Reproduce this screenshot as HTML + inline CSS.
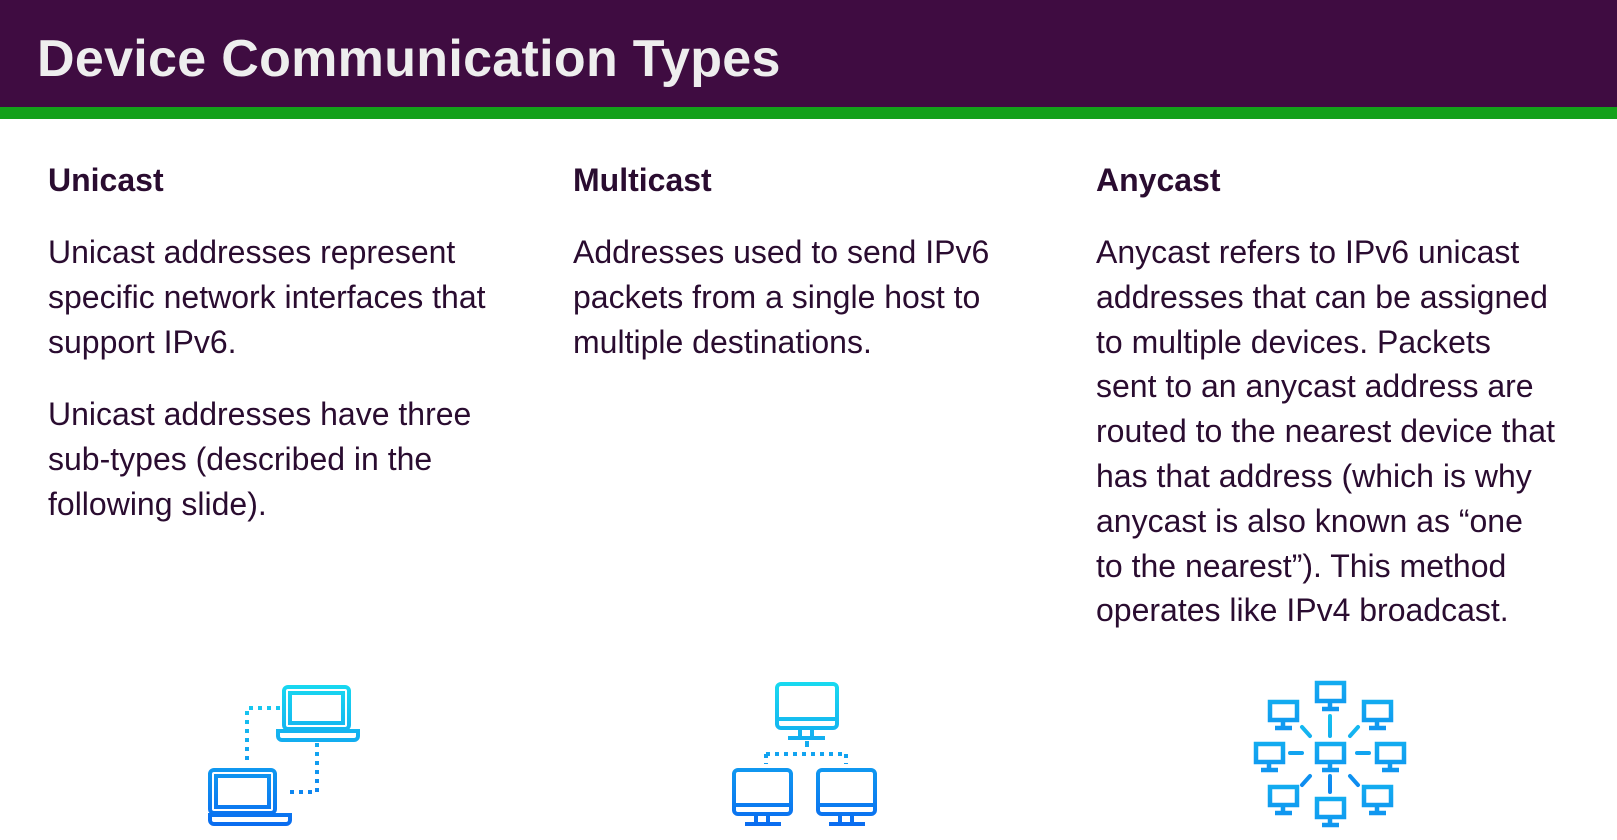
<!DOCTYPE html>
<html><head><meta charset="utf-8"><style>
body{margin:0;width:1617px;height:840px;background:#fff;position:relative;overflow:hidden;font-family:"Liberation Sans",sans-serif;color:#2a0c30}
.hdr{position:absolute;left:0;top:0;width:1617px;height:107px;background:#3f0c41}
.grn{position:absolute;left:0;top:107px;width:1617px;height:12px;background:#13a11a}
.title{position:absolute;left:37px;top:33px;font-size:52px;font-weight:bold;color:#eee;line-height:1;letter-spacing:0.3px}
h2{position:absolute;margin:0;font-size:32px;font-weight:bold;line-height:1;top:164px}
.p{position:absolute;font-size:32px;line-height:44.8px;margin:0;white-space:nowrap}
</style></head><body>
<div class="hdr"></div><div class="grn"></div>
<div class="title">Device Communication Types</div>
<h2 style="left:48px">Unicast</h2>
<h2 style="left:573px">Multicast</h2>
<h2 style="left:1096px">Anycast</h2>
<div class="p" style="left:48px;top:230px">Unicast addresses represent<br>specific network interfaces that<br>support IPv6.</div>
<div class="p" style="left:48px;top:392px">Unicast addresses have three<br>sub-types (described in the<br>following slide).</div>
<div class="p" style="left:573px;top:230px">Addresses used to send IPv6<br>packets from a single host to<br>multiple destinations.</div>
<div class="p" style="left:1096px;top:230px">Anycast refers to IPv6 unicast<br>addresses that can be assigned<br>to multiple devices. Packets<br>sent to an anycast address are<br>routed to the nearest device that<br>has that address (which is why<br>anycast is also known as “one<br>to the nearest”). This method<br>operates like IPv4 broadcast.</div>
<svg width="1617" height="840" style="position:absolute;left:0;top:0">
<defs><linearGradient id="g" gradientUnits="userSpaceOnUse" x1="0" y1="680" x2="0" y2="826"><stop offset="0" stop-color="#19dcf0"/><stop offset="1" stop-color="#0a6cf0"/></linearGradient></defs>
<g fill="none" stroke="url(#g)" stroke-width="4">
<!-- unicast -->
<rect x="284" y="687" width="65" height="42" rx="4"/><rect x="290" y="693" width="53" height="30"/>
<path d="M278 731h80v5a4 4 0 0 1-4 4h-72a4 4 0 0 1-4-4z"/>
<rect x="210" y="770" width="65" height="43" rx="4"/><rect x="216" y="776" width="53" height="31"/>
<path d="M210 815h80v5a4 4 0 0 1-4 4h-72a4 4 0 0 1-4-4z"/>
<path d="M280 708H247V765M317 743V792H287" stroke-dasharray="4 5"/>
<!-- multicast -->
<rect x="777" y="684" width="60" height="44" rx="4"/><path d="M777 719h60M800 728v9M812 728v9M788 738h37"/>
<path d="M766 754H847M766 754v10M846 754v10" stroke-dasharray="4 5"/>
<path d="M807 741v6"/>
<rect x="734" y="770" width="57" height="44" rx="4"/><path d="M734 805h57M756 814v9M768 814v9M745 824h36"/>
<rect x="818" y="770" width="57" height="44" rx="4"/><path d="M818 805h57M840 814v9M852 814v9M829 824h36"/>
<!-- anycast -->
<g id="m" stroke-width="4.5"><rect x="1317" y="744" width="27" height="18"/><path d="M1330 762v7M1322 770h17"/></g>
<use href="#m" transform="translate(0,-61)"/>
<use href="#m" transform="translate(0,55)"/>
<use href="#m" transform="translate(-61,0)"/>
<use href="#m" transform="translate(60,0)"/>
<use href="#m" transform="translate(-47,-42)"/>
<use href="#m" transform="translate(47,-42)"/>
<use href="#m" transform="translate(-47,43)"/>
<use href="#m" transform="translate(47,43)"/>
<g stroke-linecap="round"><path d="M1330 716v20M1330 776v16M1290 753h12M1357 753h12M1302 727l8 9M1358 727l-8 9M1302 785l8-9M1358 785l-8-9"/></g>
</g></svg>
</body></html>
